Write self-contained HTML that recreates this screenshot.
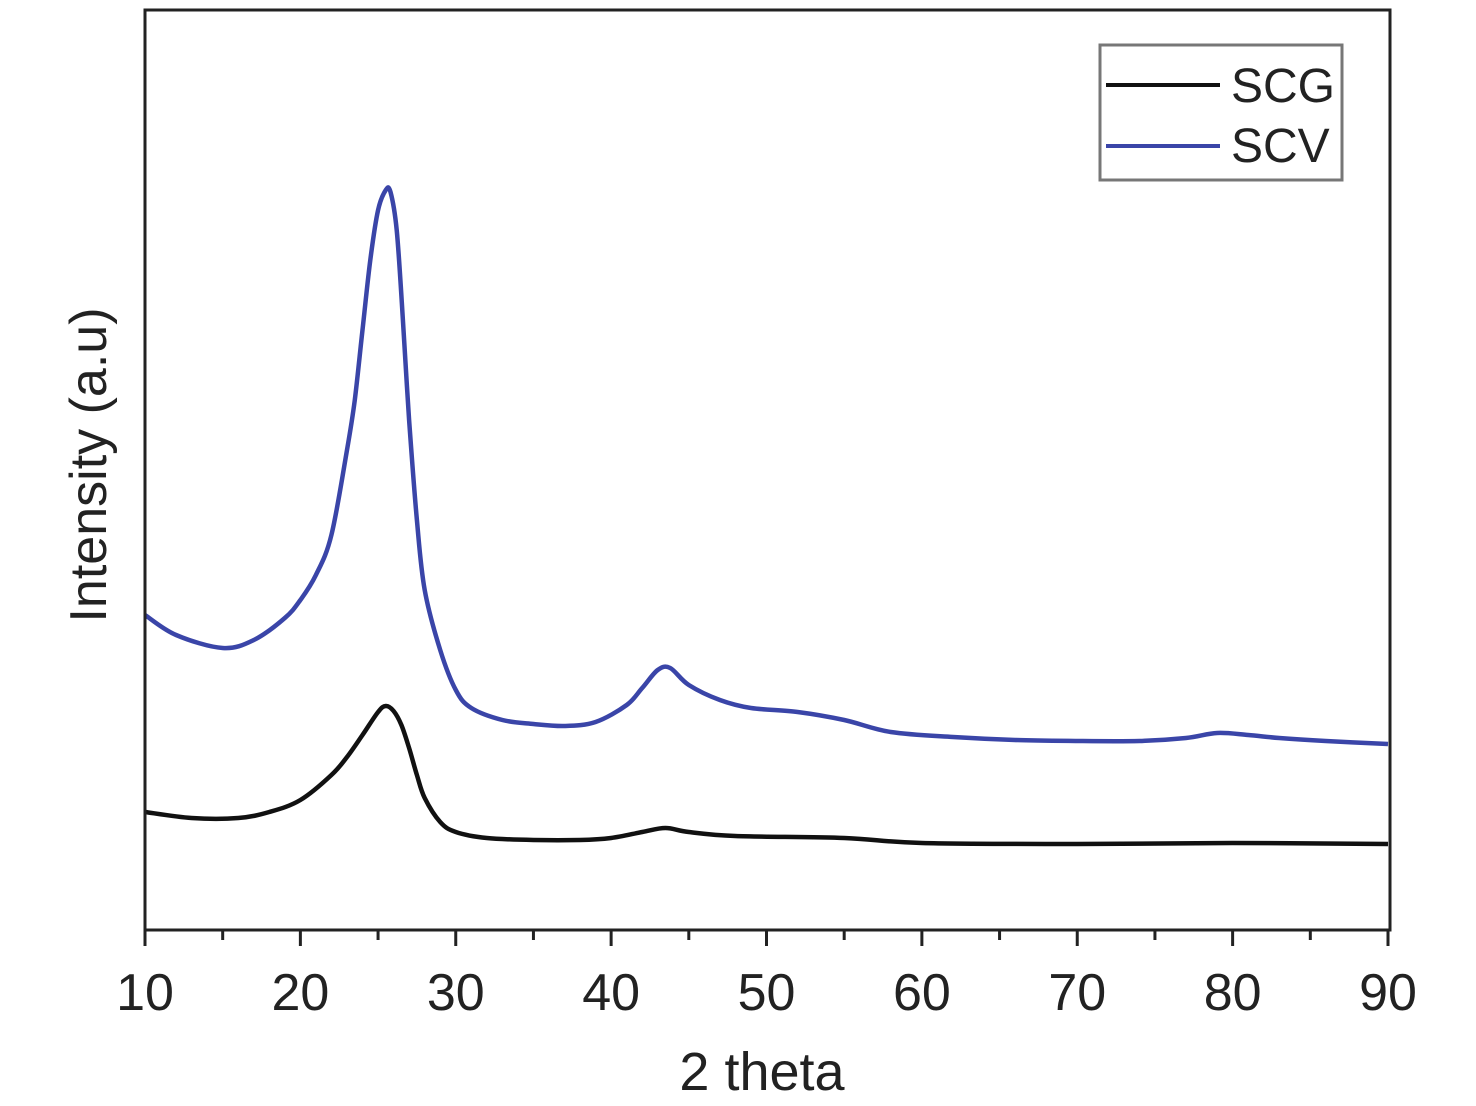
<!DOCTYPE html>
<html><head><meta charset="utf-8"><style>
body{margin:0;background:#fff;}
svg{display:block;font-family:"Liberation Sans",sans-serif;}
</style></head><body>
<svg id="chart" width="1476" height="1106" viewBox="0 0 1476 1106">
<rect x="0" y="0" width="1476" height="1106" fill="#fff"/>
<g id="ticks"></g>
<g id="series"></g>
<rect x="145" y="10" width="1245" height="920" fill="none" stroke="#222" stroke-width="3"/>
<text x="762" y="1090" font-size="54" text-anchor="middle" fill="#222">2 theta</text>
<text transform="translate(106,465) rotate(-90)" font-size="52" text-anchor="middle" fill="#222">Intensity (a.u)</text>
<g>
<rect x="1100" y="45" width="242" height="135" fill="#fff" stroke="#777" stroke-width="3"/>
<line x1="1106" y1="85" x2="1220" y2="85" stroke="#111" stroke-width="4"/>
<text x="1231" y="102" font-size="48" fill="#222">SCG</text>
<line x1="1106" y1="146" x2="1220" y2="146" stroke="#3a45a8" stroke-width="4"/>
<text x="1231" y="162" font-size="48" fill="#222">SCV</text>
</g>
</svg>
<script>
const xTicks=[10,20,30,40,50,60,70,80,90];
const scvX=[10,12,15,17,19,20,21,22,23,23.5,24,24.5,25,25.5,25.8,26.2,26.6,27,27.5,28,29,30,31,33,35,37,39,41,42,43,43.8,45,47,49,52,55,58,62,66,70,74,77,79,81,83,86,90];
const scvY=[315,295,282,290,312,330,355,395,480,530,600,670,720,740,738,700,610,510,410,340,280,240,222,210,206,204,208,225,242,260,262,245,230,222,218,210,198,193,190,189,189,192,197,195,192,189,186];
const scgX=[10,13,16,18,20,22,23,24,25,25.5,26,26.5,27,27.5,28,29,30,32,35,38,40,42,43.5,45,48,55,60,70,80,90];
const scgY=[118,112,112,118,130,155,173,195,218,224,219,205,182,155,132,108,98,92,90,90,92,98,102,98,94,92,87,86,87,86];
const X0=145,X1=1388,YB=930;
function xs(v){return X0+(v-10)/(90-10)*(X1-X0);}
function ys(v){return YB-v;}
const NS="http://www.w3.org/2000/svg";
const tg=document.getElementById('ticks');
for(let v=10;v<=90;v+=5){
  const major=xTicks.includes(v);
  const l=document.createElementNS(NS,'line');
  
  
  l.setAttribute('x1',xs(v));l.setAttribute('x2',xs(v));
  l.setAttribute('y1',930);l.setAttribute('y2',major?946:940);
  l.setAttribute('stroke','#222');l.setAttribute('stroke-width',3);
  tg.appendChild(l);
}
xTicks.forEach(v=>{
  const t=document.createElementNS(NS,'text');
  
  
  t.setAttribute('x',xs(v));t.setAttribute('y',1010);
  t.setAttribute('font-size',52);t.setAttribute('text-anchor','middle');t.setAttribute('fill','#222');
  t.textContent=v;tg.appendChild(t);
});
const sg=document.getElementById('series');
function draw(xa,ya,color,name){
  const P=xa.map((x,i)=>[xs(x),ys(ya[i])]);
  let d='M'+P[0][0].toFixed(1)+','+P[0][1].toFixed(1);
  for(let i=0;i<P.length-1;i++){
    const p0=P[Math.max(0,i-1)],p1=P[i],p2=P[i+1],p3=P[Math.min(P.length-1,i+2)];
    const c1=[p1[0]+(p2[0]-p0[0])/6,p1[1]+(p2[1]-p0[1])/6];
    const c2=[p2[0]-(p3[0]-p1[0])/6,p2[1]-(p3[1]-p1[1])/6];
    d+='C'+c1[0].toFixed(1)+','+c1[1].toFixed(1)+' '+c2[0].toFixed(1)+','+c2[1].toFixed(1)+' '+p2[0].toFixed(1)+','+p2[1].toFixed(1);
  }
  const p=document.createElementNS(NS,'path');
  
  
  p.setAttribute('d',d);
  p.setAttribute('fill','none');p.setAttribute('stroke',color);p.setAttribute('stroke-width',4.5);
  p.setAttribute('stroke-linejoin','round');
  sg.appendChild(p);
}
draw(scvX,scvY,'#3a45a8','scv-line');
draw(scgX,scgY,'#111','scg-line');
</script>
</body></html>
